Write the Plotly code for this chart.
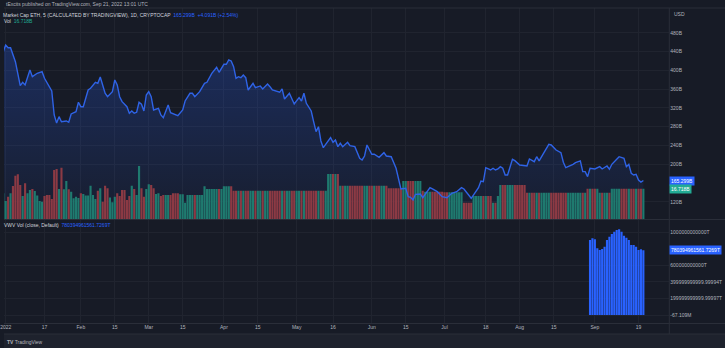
import numpy as np
import pandas as pd
import plotly.graph_objects as go

BASE = pd.Timestamp("2022-01-01")

# ---- Market cap of ETH (billions USD); day offset from 2022-01-01 ----
mcap_day = [-1, 0, 1, 2, 4, 5, 6, 7, 8, 10, 11, 13, 15, 16, 18, 19, 20, 21, 22, 23, 25, 26, 27, 29, 30,
            31, 32, 34, 35, 37, 38, 39, 41, 42, 44, 45, 46, 47, 48, 50, 51, 52, 53, 54, 55, 56, 57, 58, 59,
            60, 61, 63, 64, 65, 67, 68, 71, 73, 74, 76, 77, 78, 80, 82, 83, 85, 87, 88, 90, 91, 92, 93, 94,
            95, 96, 97, 98, 99, 100, 102, 103, 105, 106, 108, 109, 110, 113, 114, 115, 117, 119, 121, 122,
            123, 124, 126, 127, 128, 129, 130, 131, 134, 135, 136, 137, 138, 139, 141, 142, 144, 146, 147,
            148, 149, 151, 152, 154, 156, 157, 159, 161, 162, 163, 165, 166, 167, 168, 169, 171, 172, 175,
            176, 178, 180, 182, 184, 186, 188, 189, 192, 194, 195, 196, 197, 198, 200, 201, 202, 203, 204,
            205, 206, 207, 209, 210, 212, 215, 216, 218, 219, 220, 222, 224, 225, 227, 229, 230, 231, 232,
            234, 235, 237, 238, 239, 240, 241, 243, 245, 246, 248, 249, 250, 252, 253, 255, 256, 257, 258,
            259, 260, 261, 262, 263]
mcap_val = [440.1, 454.4, 448.6, 448.6, 418.8, 390.4, 367.6, 374.8, 369.1, 401.1, 386.8, 394.0, 397.5,
            383.4, 365.5, 356.3, 305.1, 288.0, 301.5, 290.8, 292.3, 289.5, 307.2, 312.1, 332.2, 322.8,
            322.8, 358.4, 362.0, 374.8, 372.7, 386.1, 351.4, 344.1, 354.8, 379.7, 369.1, 344.1, 333.5,
            322.8, 308.7, 313.6, 308.7, 310.9, 332.2, 327.9, 313.6, 347.8, 354.8, 344.1, 315.8, 319.4,
            305.1, 299.3, 326.4, 310.0, 303.6, 315.8, 335.0, 351.4, 351.4, 344.1, 354.8, 372.7, 374.8,
            394.0, 406.8, 396.2, 413.2, 413.2, 422.4, 420.3, 408.1, 383.4, 386.8, 384.7, 390.4, 384.7,
            358.4, 372.7, 363.3, 367.0, 360.6, 371.2, 365.5, 358.4, 353.5, 360.6, 339.2, 351.4, 328.6,
            342.0, 335.0, 351.4, 330.0, 313.6, 290.8, 269.5, 280.1, 249.6, 235.3, 256.7, 246.9, 251.8,
            237.5, 244.7, 237.5, 246.9, 239.6, 237.5, 212.7, 209.1, 217.6, 241.1, 221.3, 221.3, 214.9,
            224.7, 217.6, 216.1, 191.4, 166.4, 147.3, 148.7, 130.8, 129.5, 123.8, 135.9, 136.6, 128.7,
            150.0, 147.3, 141.5, 130.8, 128.7, 138.1, 141.5, 150.0, 147.3, 127.4, 141.5, 150.0, 164.3,
            162.8, 192.7, 187.8, 191.4, 187.8, 189.9, 194.8, 191.4, 177.1, 177.1, 210.6, 207.6, 198.4,
            196.3, 211.2, 205.5, 216.1, 207.0, 225.5, 242.6, 241.1, 230.4, 224.7, 204.2, 192.7, 194.8,
            199.9, 203.3, 207.0, 184.2, 184.2, 173.5, 191.4, 189.9, 194.8, 189.9, 196.3, 189.3, 199.9,
            210.6, 216.1, 212.7, 194.8, 199.9, 180.7, 177.1, 178.6, 166.4, 162.0, 165.3]

# ---- Volume (billions): daily values Dec 31 .. Mar 12, then flat steps ----
vol_first_day = -1
vol_daily = [14.2, 9.9, 12.3, 14.2, 18.2, 23.9, 24.7, 18.8, 12.7, 19.7,
             14.2, 16.0, 16.6, 15.5, 12.9, 9.9, 9.5, 12.7, 13.2, 13.2,
             11.0, 27.0, 27.6, 16.6, 28.3, 16.4, 21.0, 16.4, 15.1, 11.4,
             12.3, 11.6, 14.2, 13.8, 12.9, 12.9, 18.4, 13.2, 11.0, 15.6,
             16.9, 9.5, 18.4, 16.9, 11.8, 9.2, 12.3, 14.2, 12.7, 16.0,
             16.0, 10.5, 12.7, 18.4, 16.6, 13.2, 29.3, 16.9, 12.3, 16.6,
             19.2, 18.8, 16.9, 13.8, 14.2, 12.7, 13.2, 13.2, 13.2, 13.2,
             14.2, 14.2]
vol_step_level = [14.2, 13.6, 9.0, 13.2, 18.1, 16.6, 18.1, 15.6, 24.8, 18.4, 16.9, 21.0,
                  15.6, 15.1, 14.7, 9.0, 12.7, 9.0, 12.7, 18.8, 14.5, 16.7, 14.5, 16.718]
vol_step_days = [1, 2, 1, 7, 1, 7, 4, 39, 5, 20, 6, 8, 1, 8, 8, 4, 8, 2, 1, 11, 25, 5, 5, 14]

# ---- Lower pane indicator ----
vwv_first_day = 241
vwv_val = [0.904e12, 0.924e12, 0.912e12, 0.804e12, 0.783e12, 0.795e12, 0.823e12, 0.904e12,
           0.943e12, 0.976e12, 1.004e12, 1.024e12, 1.033e12, 1.004e12, 0.955e12, 0.931e12,
           0.904e12, 0.843e12, 0.843e12, 0.823e12, 0.783e12, 0.792e12, 780394961561.7269]

y_tick_vals = [120, 200, 240, 280, 320, 360, 400, 440, 480]
y_tick_text = ["120B", "200B", "240B", "280B", "320B", "360B", "400B", "440B", "480B"]
y2_tick_vals = [-67.109e6, 0.2e12, 0.4e12, 0.6e12, 1.0e12]
y2_tick_text = ["-67.109M", "199999999999.99997T", "399999999999.99994T", "600000000000T", "1000000000000T"]
x_tick_dates = ["2022-01-01", "2022-01-17", "2022-02-01", "2022-02-15", "2022-03-01", "2022-03-15",
                "2022-04-01", "2022-04-15", "2022-05-01", "2022-05-16", "2022-06-01", "2022-06-15",
                "2022-07-01", "2022-07-18", "2022-08-01", "2022-08-15", "2022-09-01", "2022-09-19"]
x_tick_text = ["2022", "17", "Feb", "15", "Mar", "15", "Apr", "15", "May", "16", "Jun", "15",
               "Jul", "18", "Aug", "15", "Sep", "19"]

# ---------------- build ----------------
W, H = 725, 348
def px(x): return x / W
def py(y): return 1 - y / H

BG = "#171b26"
GRID = "#20242f"
TXT = "#b2b5be"
BLUE = "#2962ff"
TEAL = "#22ab94"
FONT = "Liberation Sans"

mcap_dates = BASE + pd.to_timedelta(mcap_day, unit="D")

vol = list(vol_daily) + list(np.repeat(vol_step_level, vol_step_days))
vol_days = np.arange(vol_first_day, vol_first_day + len(vol))
vol_dates = BASE + pd.to_timedelta(vol_days, unit="D")
cur = np.interp(vol_days, mcap_day, mcap_val)
prev = np.interp(vol_days - 1, mcap_day, mcap_val)
vol_colors = ["#1f7a6f" if c >= p else "#8c3a44" for c, p in zip(cur, prev)]

vwv_days = np.arange(vwv_first_day, vwv_first_day + len(vwv_val))
vwv_dates = BASE + pd.to_timedelta(vwv_days, unit="D")

x_range = [BASE + pd.Timedelta(days=-0.70), BASE + pd.Timedelta(days=273.7)]
main_rng = [83.2, 533.3]
vol_rng = [0, 116.4]
low_rng = [-0.0964e12, 1.1446e12]

fig = go.Figure()
fig.add_trace(go.Scatter(x=mcap_dates, y=mcap_val, mode="lines", line=dict(width=0),
                         fill="tozeroy",
                         fillgradient=dict(type="vertical",
                                           colorscale=[[0, "rgba(41,98,255,0.04)"], [1, "rgba(41,98,255,0.26)"]],
                                           start=main_rng[0], stop=460),
                         xaxis="x", yaxis="y", hoverinfo="skip"))
fig.add_trace(go.Bar(x=vol_dates, y=vol, marker=dict(color=vol_colors, line=dict(width=0)),
                     xaxis="x", yaxis="y3"))
fig.add_trace(go.Scatter(x=mcap_dates, y=mcap_val, mode="lines",
                         line=dict(color="#2f63e6", width=1.4), xaxis="x", yaxis="y4"))
fig.add_trace(go.Bar(x=vwv_dates, y=vwv_val, marker=dict(color=BLUE, line=dict(width=0)),
                     xaxis="x2", yaxis="y2"))

main_dom = [py(219), py(8)]
low_dom = [py(323), py(220)]
xdom = [0, px(669)]

tickfont = dict(family=FONT, size=5, color=TXT)
fig.update_layout(
    width=W, height=H, margin=dict(l=0, r=0, t=0, b=0),
    paper_bgcolor=BG, plot_bgcolor=BG, showlegend=False, bargap=0.12,
    xaxis=dict(domain=xdom, range=x_range, type="date", tickvals=x_tick_dates, showticklabels=False,
               showgrid=True, gridcolor=GRID, gridwidth=1, zeroline=False, showline=False,
               anchor="y", ticks=""),
    xaxis2=dict(domain=xdom, range=x_range, type="date", tickvals=x_tick_dates, ticktext=x_tick_text,
                showgrid=True, gridcolor=GRID, gridwidth=1, zeroline=False, showline=False,
                anchor="y2", ticks="", tickfont=tickfont, matches="x", ticklabeloverflow="allow"),
    yaxis=dict(domain=main_dom, range=main_rng, side="right", anchor="x", tickvals=y_tick_vals,
               ticktext=y_tick_text, showgrid=True, gridcolor=GRID, zeroline=False, ticks="",
               tickfont=tickfont, showline=False),
    yaxis3=dict(range=vol_rng, overlaying="y", visible=False, anchor="x"),
    yaxis4=dict(range=main_rng, overlaying="y", visible=False, anchor="x"),
    yaxis2=dict(domain=low_dom, range=low_rng, side="right", anchor="x2", tickvals=y2_tick_vals,
                ticktext=y2_tick_text, showgrid=True, gridcolor=GRID, zeroline=False, ticks="",
                tickfont=tickfont, showline=False),
)

line_col = "#2a2e39"
shapes = [
    dict(type="line", xref="paper", yref="paper", x0=0, x1=1, y0=py(8), y1=py(8), line=dict(color=line_col, width=1)),
    dict(type="line", xref="paper", yref="paper", x0=0, x1=1, y0=py(219.5), y1=py(219.5), line=dict(color=line_col, width=1)),
    dict(type="line", xref="paper", yref="paper", x0=0, x1=1, y0=py(323.5), y1=py(323.5), line=dict(color=line_col, width=1)),
    dict(type="line", xref="paper", yref="paper", x0=px(669), x1=px(669), y0=py(334), y1=py(8), line=dict(color=line_col, width=1)),
    dict(type="rect", xref="paper", yref="paper", x0=0, x1=1, y0=0, y1=py(334), fillcolor="#1e222d", line=dict(width=0)),
    dict(type="line", xref="paper", yref="paper", x0=0, x1=1, y0=py(334), y1=py(334), line=dict(color=line_col, width=1)),
]
fig.update_layout(shapes=shapes)

def ann(x, y, text, size=5, color=TXT, **kw):
    d = dict(x=x, y=y, xref="paper", yref="paper", text=text, showarrow=False, xanchor="left",
             yanchor="middle", font=dict(family=FONT, size=size, color=color))
    d.update(kw)
    return d

last_vol = vol[-1]
annotations = [
    ann(px(0), py(4), "tExcits published on TradingView.com, Sep 21, 2022 13:01 UTC", size=5, color=TXT),
    ann(px(-3), py(15), "Market Cap ETH, 5 (CALCULATED BY TRADINGVIEW), 1D, CRYPTOCAP  "
        f"<span style='color:{BLUE}'>165.299B  +4.091B (+2.54%)</span>", size=5, color="#d1d4dc"),
    ann(px(-2), py(21.3), f"Vol  <span style='color:{TEAL}'>16.718B</span>", size=5, color="#d1d4dc"),
    ann(px(-2), py(225), f"VWV Vol (close, Default)  <span style='color:{BLUE}'>780394961561.7269T</span>",
        size=5, color="#d1d4dc"),
    ann(px(672), py(14), "USD", size=5, color=TXT),
    ann(px(1), py(341.5), "<b>TV</b> TradingView", size=5, color=TXT),
    dict(x=px(669), y=mcap_val[-1], xref="paper", yref="y", text="165.299B", showarrow=False,
         xanchor="left", yanchor="middle", bgcolor=BLUE, borderpad=1,
         font=dict(family=FONT, size=5, color="#ffffff")),
    dict(x=px(669), y=last_vol, xref="paper", yref="y3", text="16.718B", showarrow=False,
         xanchor="left", yanchor="middle", bgcolor=TEAL, borderpad=1,
         font=dict(family=FONT, size=5, color="#ffffff")),
    dict(x=px(669), y=vwv_val[-1], xref="paper", yref="y2", text="780394961561.7269T", showarrow=False,
         xanchor="left", yanchor="middle", bgcolor=BLUE, borderpad=1,
         font=dict(family=FONT, size=5, color="#ffffff")),
]
fig.update_layout(annotations=annotations)

fig.write_html("out.html")
